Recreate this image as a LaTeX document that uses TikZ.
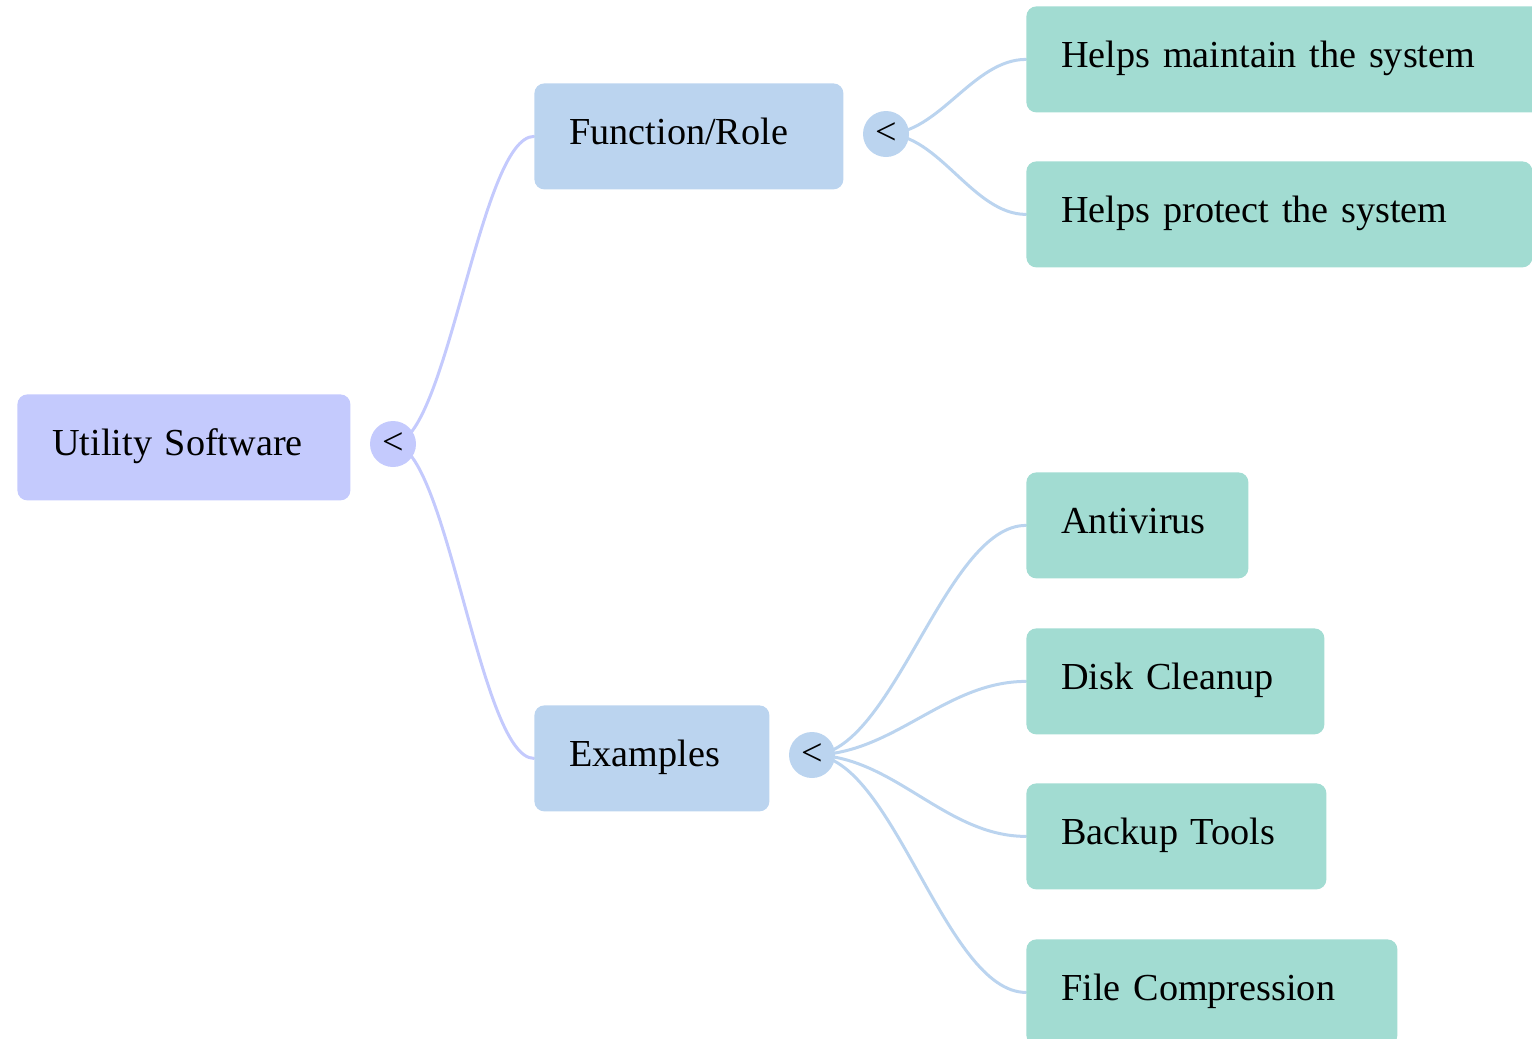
\documentclass[tikz,border=0pt]{standalone}
\usepackage{fontspec}
\setmainfont{Liberation Serif}
\usetikzlibrary{backgrounds}
\definecolor{rootfill}{RGB}{196,202,253}
\definecolor{midfill}{RGB}{187,212,239}
\definecolor{leaffill}{RGB}{162,220,210}
\begin{document}
\begin{tikzpicture}[x=0.5pt,y=-0.5pt,
  box/.style={rounded corners=5pt, anchor=north west, minimum height=53pt,
    inner xsep=17.5pt, inner ysep=0pt, text height=14pt, text depth=6pt,
    align=left, font=\fontsize{19.1}{23}\selectfont},
  toggle/.style={circle, minimum size=23pt, inner sep=0pt,
    font=\fontsize{19.1}{23}\selectfont},
  link/.style={line width=1.5pt, line cap=round}]
\useasboundingbox (0,0) rectangle (1532,1039);
\clip (0,0) rectangle (1532,1039);

% root
\node[box, fill=rootfill, text width=131.5pt] (root) at (17,394) {Utility Software};
\node[toggle, fill=rootfill] (rt) at (393,444) {<};

% second level
\node[box, fill=midfill, text width=119.5pt] (func) at (534,83) {Function/Role};
\node[toggle, fill=midfill] (ft) at (886,134) {<};
\node[box, fill=midfill, text width=82.5pt] (exam) at (534,705) {Examples};
\node[toggle, fill=midfill] (et) at (812,755) {<};

% leaves
\node[box, fill=leaffill, text width=227pt] (maint) at (1026,6) {Helps maintain the system};
\node[box, fill=leaffill, text width=218pt] (prot) at (1026,161) {Helps protect the system};
\node[box, fill=leaffill, text width=76pt] (anti) at (1026,472) {Antivirus};
\node[box, fill=leaffill, text width=114pt] (disk) at (1026,628) {Disk Cleanup};
\node[box, fill=leaffill, text width=115pt] (back) at (1026,783) {Backup Tools};
\node[box, fill=leaffill, text width=150.5pt] (file) at (1026,939) {File Compression};

% connectors: horizontal-tangent curves from each toggle to its children
\begin{scope}[on background layer]
\draw[link, rootfill] (rt.center) .. controls +(54,0) and +(-54,0) .. (func.west);
\draw[link, rootfill] (rt.center) .. controls +(54,0) and +(-54,0) .. (exam.west);
\draw[link, midfill] (ft.center) .. controls +(53,0) and +(-53,0) .. (maint.west);
\draw[link, midfill] (ft.center) .. controls +(53,0) and +(-53,0) .. (prot.west);
\draw[link, midfill] (et.center) .. controls +(81,0) and +(-81,0) .. (anti.west);
\draw[link, midfill] (et.center) .. controls +(81,0) and +(-81,0) .. (disk.west);
\draw[link, midfill] (et.center) .. controls +(81,0) and +(-81,0) .. (back.west);
\draw[link, midfill] (et.center) .. controls +(81,0) and +(-81,0) .. (file.west);
\end{scope}
\end{tikzpicture}
\end{document}
